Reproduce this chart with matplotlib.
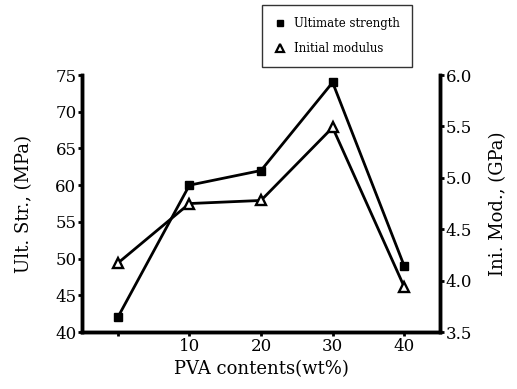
import matplotlib.pyplot as plt
from matplotlib.lines import Line2D

plt.rcParams['font.family'] = 'DejaVu Serif'

# data
pva = [0, 10, 20, 30, 40]
ult_str = [42, 60, 62, 74, 49]          # MPa
ini_mod = [4.17, 4.75, 4.78, 5.49, 3.94]  # GPa
xtick_labels = ['', '10', '20', '30', '40']

fig = plt.figure(figsize=(5.17, 3.89), dpi=100)
ax = fig.add_axes([0.1586, 0.1465, 0.6925, 0.6605])
ax2 = ax.twinx()

ax.plot(pva, ult_str, color='black', lw=2.0, marker='s', ms=5.5)
ax2.plot(pva, ini_mod, color='black', lw=2.0, marker='^', ms=6.5,
         markerfacecolor='white', markeredgewidth=1.7)

ax.set_xlim(-5, 45)
ax.set_ylim(40, 75)
ax2.set_ylim(3.5, 6.0)
ax.set_xticks(pva)
ax.set_xticklabels(xtick_labels)
ax.set_yticks(range(40, 76, 5))
ax2.set_yticks([3.5, 4.0, 4.5, 5.0, 5.5, 6.0])
ax2.set_yticklabels(['3.5', '4.0', '4.5', '5.0', '5.5', '6.0'])

for a in (ax, ax2):
    a.spines['top'].set_visible(False)
    for s in a.spines.values():
        s.set_linewidth(2.5)
    a.tick_params(direction='out', length=3, width=2, labelsize=12, pad=1)

ax.set_xlabel('PVA contents(wt%)', fontsize=13, labelpad=4)
ax.set_ylabel('Ult. Str., (MPa)', fontsize=13, labelpad=16)
ax2.set_ylabel('Ini. Mod., (GPa)', fontsize=13, labelpad=12, rotation=90)

handles = [
    Line2D([], [], color='black', marker='s', ls='none', ms=5, label='Ultimate strength'),
    Line2D([], [], color='black', marker='^', ls='none', ms=6, markerfacecolor='white',
           markeredgewidth=1.6, label='Initial modulus'),
]
leg = fig.legend(handles=handles, loc='upper left', bbox_to_anchor=(0.503, 0.993),
                 fontsize=8.5, frameon=True, fancybox=False, handlelength=1,
                 handletextpad=0.7, borderpad=1.0, labelspacing=1.0,
                 borderaxespad=0.2)
leg.get_frame().set_edgecolor('black')
leg.get_frame().set_linewidth(1)

fig.savefig('out.png', dpi=100)
